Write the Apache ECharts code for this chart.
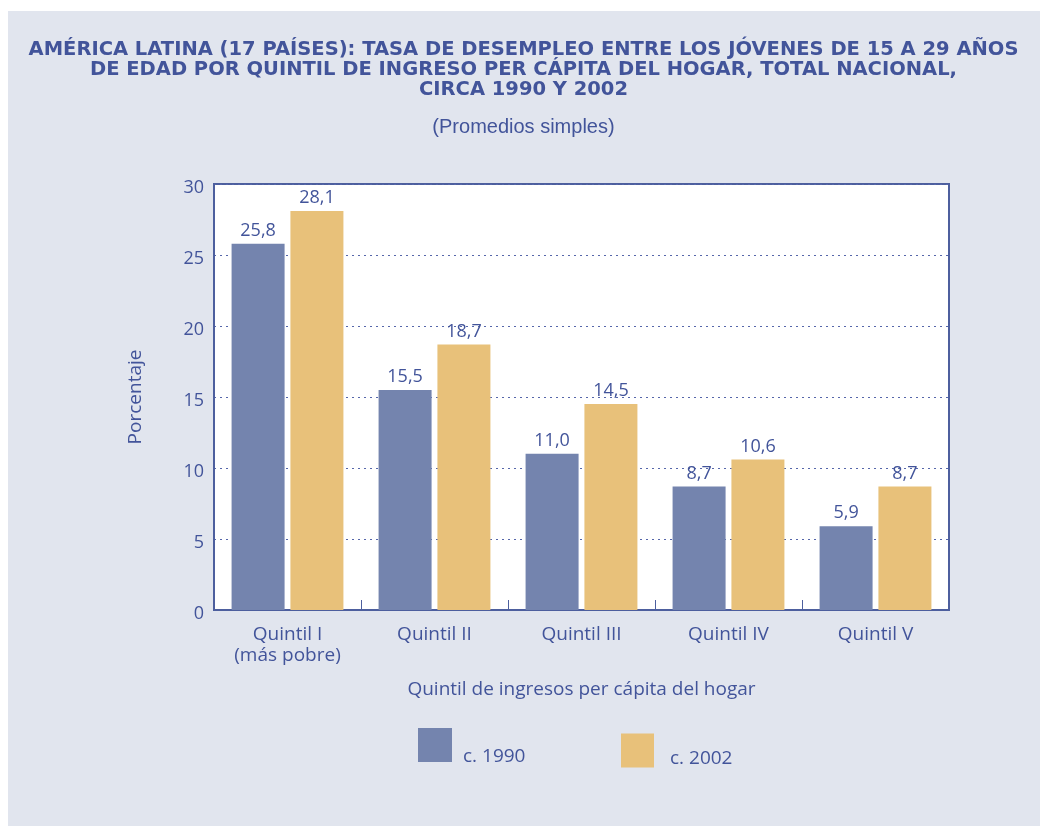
<!DOCTYPE html>
<html>
<head>
<meta charset="utf-8">
<script src="https://cdn.jsdelivr.net/npm/echarts@6/dist/echarts.min.js"></script>
<style>
  html, body { margin: 0; padding: 0; background: #fff; }
  #chart { width: 1047px; height: 829px; }
</style>
</head>
<body>
<div id="chart"></div>
<script>
// data
var categories = ['Quintil I\n(más pobre)', 'Quintil II', 'Quintil III', 'Quintil IV', 'Quintil V'];
var c1990 = [25.8, 15.5, 11.0, 8.7, 5.9];
var c2002 = [28.1, 18.7, 14.5, 10.6, 8.7];
var yTicks = [0, 5, 10, 15, 20, 25, 30];

var ink = '#42549a';
var font = 'Open Sans';

var myChart = echarts.init(document.getElementById('chart'));

function comma(p) {
    return p.value.toFixed(1).replace('.', ',');
}

option = {
    backgroundColor: '#fff',
    color: ['#7484ae', '#e8c17a'],
    graphic: [
        {
            type: 'rect', z: -10, silent: true,
            shape: { x: 8, y: 11, width: 1032, height: 815 },
            style: { fill: '#e1e5ee' }
        }
    ],
    title: {
        text: 'AMÉRICA LATINA (17 PAÍSES): TASA DE DESEMPLEO ENTRE LOS JÓVENES DE 15 A 29 AÑOS\nDE EDAD POR QUINTIL DE INGRESO PER CÁPITA DEL HOGAR, TOTAL NACIONAL,\nCIRCA 1990 Y 2002',
        subtext: '(Promedios simples)',
        left: 'center',
        top: 35,
        itemGap: 17,
        textStyle: {
            color: ink, fontFamily: 'DejaVu Sans', fontWeight: 'bold',
            fontSize: 19.5, lineHeight: 20
        },
        subtextStyle: {
            color: ink, fontFamily: 'Liberation Sans', fontSize: 20
        }
    },
    legend: [
        {
            data: ['c. 1990'], left: 418, top: 721, padding: 0,
            icon: 'rect', itemWidth: 34, itemHeight: 34,
            formatter: '\n{name}',
            textStyle: { color: ink, fontFamily: font, fontSize: 19, lineHeight: 24, padding: [0, 0, 0, 6] }
        },
        {
            data: ['c. 2002'], left: 621, top: 733, padding: 0,
            icon: 'rect', itemWidth: 33, itemHeight: 34,
            formatter: '\n{name}',
            textStyle: { color: ink, fontFamily: font, fontSize: 19, lineHeight: 16, padding: [0, 0, 0, 11] }
        }
    ],
    grid: {
        left: 214, right: 98, top: 184, bottom: 219,
        show: true, backgroundColor: '#fff',
        borderColor: '#4d5f9e', borderWidth: 2
    },
    xAxis: [
        {
            type: 'category',
            data: categories,
            name: 'Quintil de ingresos per cápita del hogar',
            nameLocation: 'middle',
            nameGap: 70,
            nameTextStyle: { color: ink, fontFamily: font, fontSize: 19 },
            axisLine: { lineStyle: { color: '#4d5f9e', width: 2 } },
            axisTick: { show: true, inside: true, length: 10, lineStyle: { color: '#4d5f9e' } },
            axisLabel: { color: ink, fontFamily: font, fontSize: 19, margin: 14, lineHeight: 21 }
        }
    ],
    yAxis: [
        {
            type: 'value',
            min: yTicks[0], max: yTicks[yTicks.length - 1], interval: 5,
            name: 'Porcentaje',
            nameLocation: 'middle',
            nameGap: 69,
            nameTextStyle: { color: ink, fontFamily: font, fontSize: 19 },
            axisLine: { show: true, lineStyle: { color: '#4d5f9e', width: 2 } },
            axisTick: { show: false },
            axisLabel: { color: ink, fontFamily: font, fontSize: 18, margin: 10, verticalAlign: 'top', lineHeight: 8 },
            splitLine: { lineStyle: { color: '#5566aa', type: [2, 4], width: 1 } }
        }
    ],
    series: [
        {
            name: 'c. 1990', type: 'bar', data: c1990,
            barWidth: 53, barGap: '11%',
            label: { show: true, position: 'top', distance: 4, color: ink, fontFamily: font, fontSize: 18, formatter: comma }
        },
        {
            name: 'c. 2002', type: 'bar', data: c2002,
            barWidth: 53,
            label: { show: true, position: 'top', distance: 4, color: ink, fontFamily: font, fontSize: 18, formatter: comma }
        }
    ]
};

myChart.setOption(option, true);
</script>
</body>
</html>
